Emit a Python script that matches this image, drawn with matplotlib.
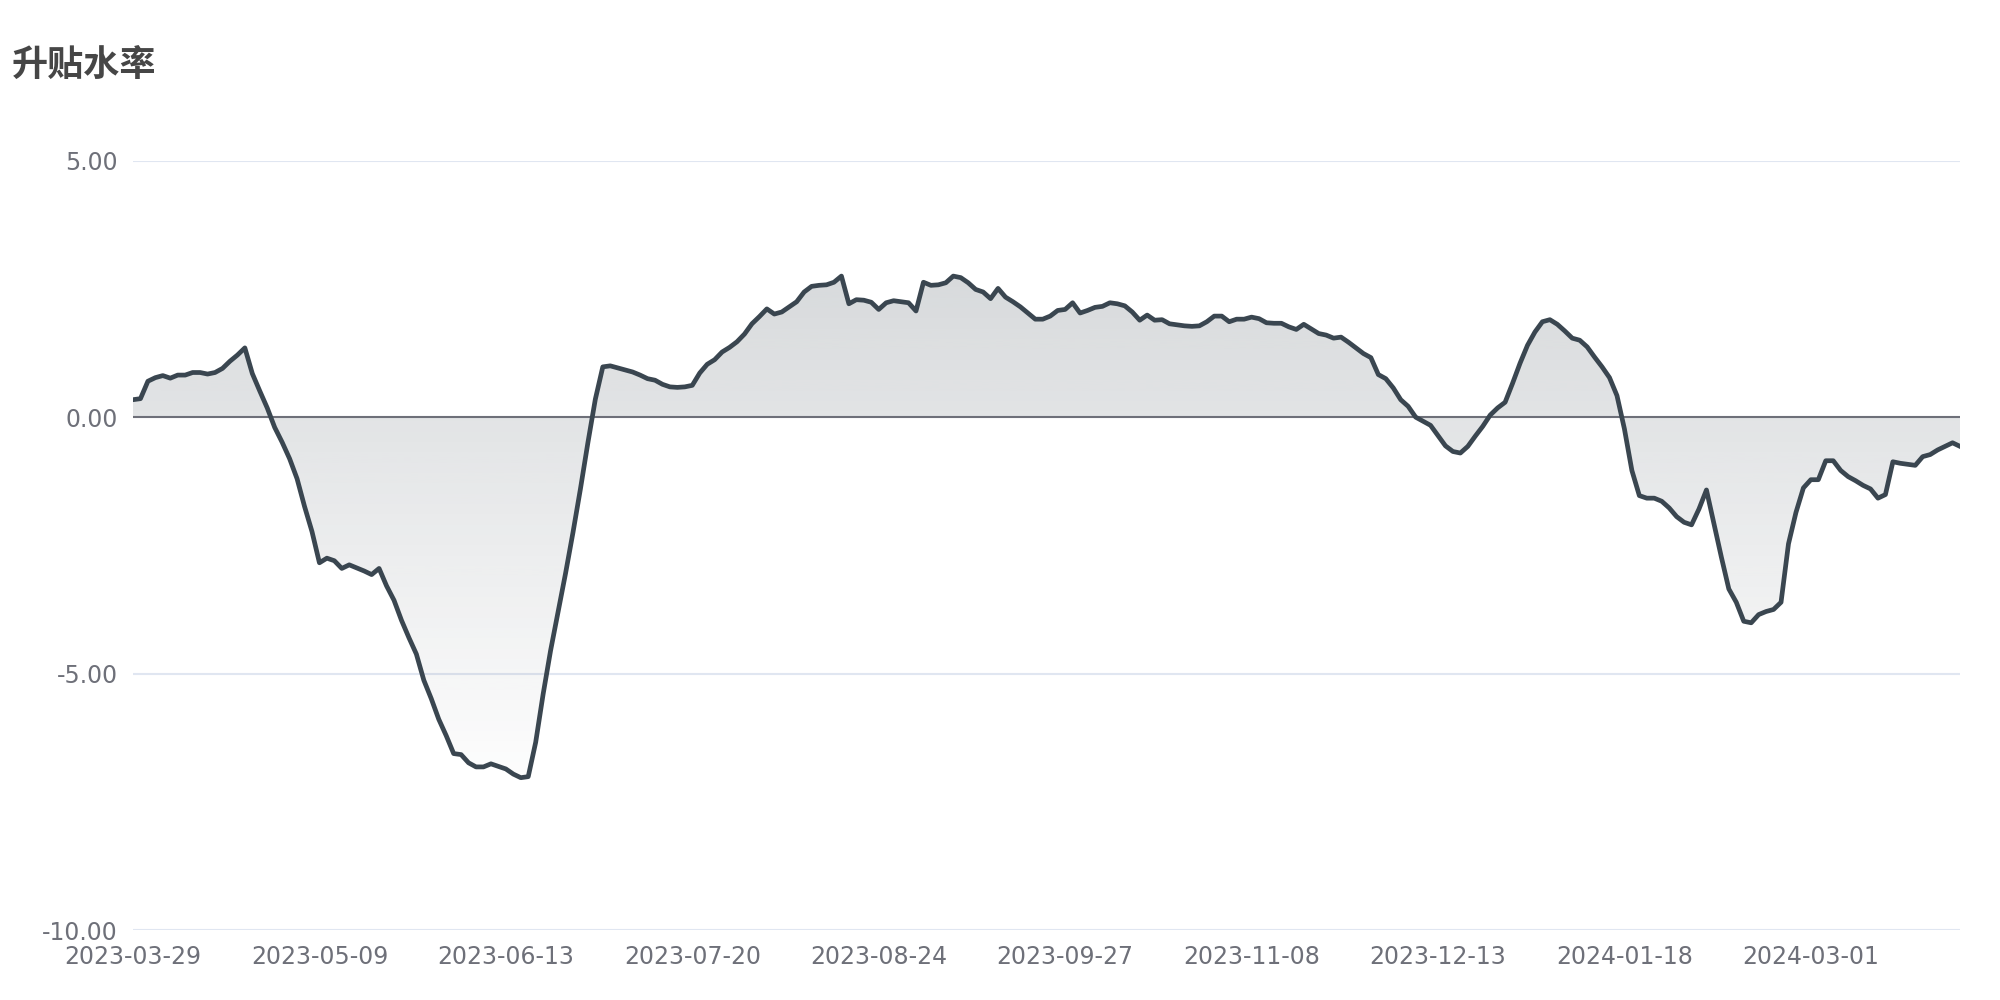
import numpy as np
import matplotlib
matplotlib.use("Agg")
import matplotlib.pyplot as plt
from matplotlib.colors import to_rgb

plt.rcParams['font.family'] = ['DejaVu Sans', 'Noto Sans CJK SC']

# 升贴水率, one value per trading day (2023-03-29 .. 2024-03-29)
premium = [
    0.34, 0.36, 0.70, 0.77, 0.81, 0.76, 0.82, 0.82, 0.87, 0.87,
    0.84, 0.87, 0.95, 1.09, 1.21, 1.35, 0.85, 0.51, 0.18, -0.20,
    -0.49, -0.81, -1.20, -1.74, -2.23, -2.84, -2.75, -2.80, -2.95, -2.88,
    -2.94, -3.00, -3.07, -2.95, -3.29, -3.57, -3.96, -4.30, -4.62, -5.13,
    -5.49, -5.89, -6.21, -6.56, -6.58, -6.74, -6.82, -6.82, -6.76, -6.81,
    -6.86, -6.96, -7.03, -7.01, -6.34, -5.40, -4.55, -3.80, -3.05, -2.25,
    -1.40, -0.50, 0.35, 0.98, 1.00, 0.96, 0.92, 0.88, 0.82, 0.75,
    0.72, 0.64, 0.59, 0.58, 0.59, 0.62, 0.86, 1.03, 1.12, 1.27,
    1.36, 1.47, 1.62, 1.82, 1.96, 2.11, 2.01, 2.05, 2.15, 2.25,
    2.44, 2.55, 2.57, 2.58, 2.63, 2.75, 2.21, 2.29, 2.28, 2.24,
    2.10, 2.23, 2.27, 2.25, 2.23, 2.07, 2.63, 2.57, 2.58, 2.62,
    2.75, 2.72, 2.62, 2.49, 2.44, 2.31, 2.51, 2.34, 2.25, 2.15,
    2.03, 1.91, 1.91, 1.97, 2.08, 2.10, 2.23, 2.03, 2.08, 2.14,
    2.16, 2.23, 2.21, 2.17, 2.05, 1.89, 1.99, 1.89, 1.90, 1.82,
    1.80, 1.78, 1.77, 1.78, 1.86, 1.97, 1.97, 1.86, 1.91, 1.91,
    1.95, 1.92, 1.84, 1.83, 1.83, 1.76, 1.71, 1.81, 1.72, 1.63,
    1.60, 1.54, 1.56, 1.46, 1.35, 1.24, 1.16, 0.83, 0.75, 0.57,
    0.34, 0.21, 0.00, -0.08, -0.16, -0.36, -0.56, -0.67, -0.70, -0.57,
    -0.37, -0.18, 0.04, 0.18, 0.29, 0.66, 1.05, 1.40, 1.66, 1.86,
    1.90, 1.81, 1.68, 1.54, 1.50, 1.37, 1.17, 0.98, 0.77, 0.42,
    -0.23, -1.04, -1.53, -1.58, -1.58, -1.64, -1.77, -1.94, -2.05, -2.10,
    -1.79, -1.42, -2.08, -2.73, -3.35, -3.61, -3.98, -4.01, -3.85, -3.79,
    -3.75, -3.61, -2.47, -1.86, -1.38, -1.22, -1.22, -0.85, -0.85, -1.04,
    -1.16, -1.24, -1.33, -1.40, -1.58, -1.51, -0.87, -0.90, -0.92, -0.94,
    -0.77, -0.73, -0.64, -0.57, -0.50, -0.57,
]

# every 25th trading day is labelled
tick_labels = ['2023-03-29', '2023-05-09', '2023-06-13', '2023-07-20', '2023-08-24',
               '2023-09-27', '2023-11-08', '2023-12-13', '2024-01-18', '2024-03-01']
tick_step = 25
y_ticks = [-10, -5, 0, 5]

line_color = '#3a4650'
label_color = '#6E7079'
grid_color = '#E0E6F1'

x = np.arange(len(premium))
y = np.array(premium)

fig = plt.figure(figsize=(20, 10), dpi=100)
ax = fig.add_axes([0.0665, 0.07, 0.9135, 0.7693])

# area between line and zero, vertical gradient from darker (top) to clear (bottom)
poly = ax.fill_between(x, y, 0, facecolor='none', edgecolor='none')
r, g, b = to_rgb(line_color)
grad = np.zeros((256, 1, 4))
grad[:, 0, 0] = r
grad[:, 0, 1] = g
grad[:, 0, 2] = b
grad[:, 0, 3] = np.linspace(0.2, 0.01, 256)
img = ax.imshow(grad, extent=[x[0], x[-1], y.min(), y.max()], aspect='auto',
                origin='upper', zorder=1, interpolation='bicubic')
img.set_clip_path(poly.get_paths()[0], transform=ax.transData)

for v in y_ticks:
    if v == 0:
        ax.axhline(v, color=label_color, lw=1.5, zorder=2)
    else:
        ax.axhline(v, color=grid_color, lw=1.5, zorder=0)

ax.plot(x, y, color=line_color, lw=3.4, zorder=3, solid_joinstyle='round')

ax.set_xlim(x[0], x[-1])
ax.set_ylim(-10, 5)
ax.set_xticks(x[::tick_step])
ax.set_xticklabels(tick_labels)
ax.set_yticks(y_ticks)
ax.set_yticklabels([f'{v:.2f}' for v in y_ticks])
ax.tick_params(length=0, pad=11, labelsize=17, labelcolor=label_color)
for s in ax.spines.values():
    s.set_visible(False)

fig.text(0.006, 1 - 65 / 1000, '升贴水率', fontsize=26, fontweight='bold',
         color='#464646', va='center', ha='left', family=['Noto Sans CJK SC'])

fig.savefig('out.png', dpi=100, facecolor='white')
